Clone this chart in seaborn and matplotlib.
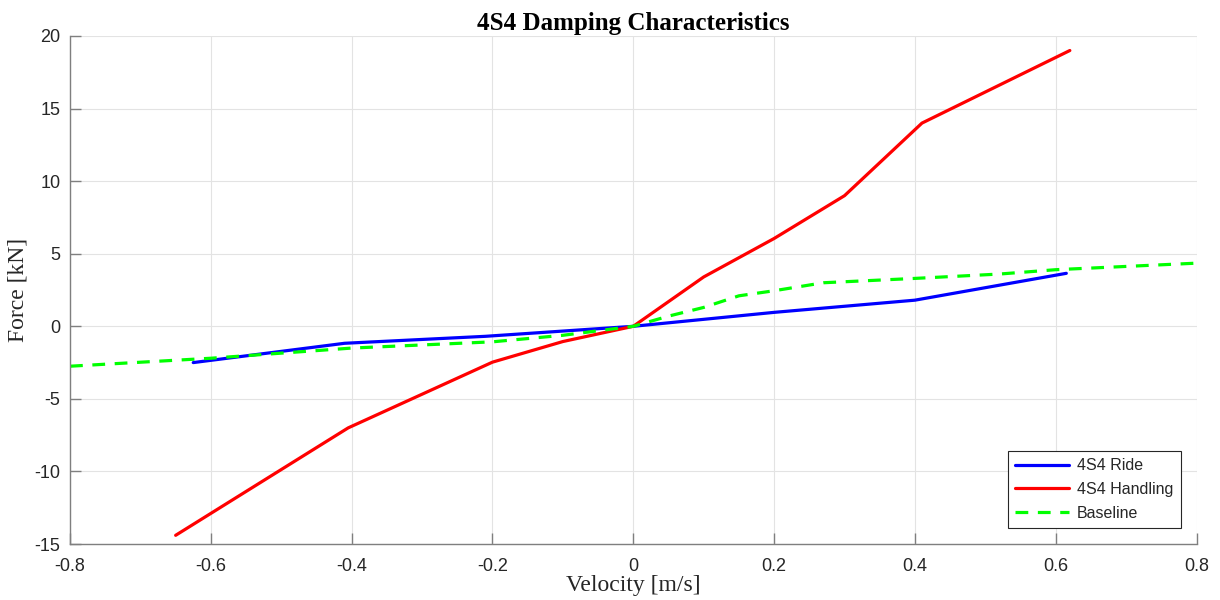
import seaborn as sns
import matplotlib.pyplot as plt
import pandas as pd

# -----------------------------
# Data
# -----------------------------
ride_v = [-0.625, -0.41, -0.21, 0.0, 0.2, 0.4, 0.615]
ride_f = [-2.5, -1.17, -0.69, 0.0, 0.96, 1.8, 3.65]

handling_v = [-0.65, -0.405, -0.2, -0.1, 0.0, 0.1, 0.2, 0.3, 0.41, 0.62]
handling_f = [-14.4, -7.0, -2.47, -1.05, 0.0, 3.4, 6.05, 9.0, 14.0, 19.0]

baseline_v = [-0.8, -0.6, -0.4, -0.2, -0.1, 0.0, 0.05, 0.1, 0.15, 0.2, 0.27, 0.4, 0.52, 0.6, 0.8]
baseline_f = [-2.75, -2.2, -1.5, -1.07, -0.62, 0.0, 0.7, 1.3, 2.1, 2.45, 3.0, 3.3, 3.6, 3.9, 4.35]

x_ticks = [-0.8, -0.6, -0.4, -0.2, 0, 0.2, 0.4, 0.6, 0.8]
x_labels = ["-0.8", "-0.6", "-0.4", "-0.2", "0", "0.2", "0.4", "0.6", "0.8"]
y_ticks = [-15, -10, -5, 0, 5, 10, 15, 20]
y_labels = ["-15", "-10", "-5", "0", "5", "10", "15", "20"]

ride = pd.DataFrame({"v": ride_v, "F": ride_f})
handling = pd.DataFrame({"v": handling_v, "F": handling_f})
baseline = pd.DataFrame({"v": baseline_v, "F": baseline_f})

# -----------------------------
# Styling (MATLAB-like look)
# -----------------------------
sns.set_style("whitegrid", {"grid.color": "#e3e3e3", "axes.edgecolor": "#7f7f7f"})
plt.rcParams["font.family"] = ["Liberation Sans", "DejaVu Sans"]

fig = plt.figure(figsize=(12.2, 6), dpi=100)
ax = fig.add_axes([0.0574, 0.0933, 0.9234, 0.8467])

sns.lineplot(data=ride, x="v", y="F", sort=False, color="#0000ff", lw=2.3,
             label="4S4 Ride", ax=ax)
sns.lineplot(data=handling, x="v", y="F", sort=False, color="#ff0000", lw=2.3,
             label="4S4 Handling", ax=ax)
sns.lineplot(data=baseline, x="v", y="F", sort=False, color="#00ff00", lw=2.3,
             label="Baseline", ax=ax)
ax.lines[-1].set_dashes((4, 3))

ax.set_xlim(-0.8, 0.8)
ax.set_ylim(-15, 20)
ax.set_xticks(x_ticks)
ax.set_xticklabels(x_labels)
ax.set_yticks(y_ticks)
ax.set_yticklabels(y_labels)

for side in ("top", "right"):
    ax.spines[side].set_visible(False)
for side in ("left", "bottom"):
    ax.spines[side].set_linewidth(1.0)

ax.tick_params(axis="both", direction="in", length=8, width=1, color="#7f7f7f",
               labelsize=13, labelcolor="#262626", bottom=True, left=True)
ax.tick_params(axis="x", pad=10)
ax.tick_params(axis="y", pad=7)

ax.set_title("4S4 Damping Characteristics", fontsize=18, fontweight="bold",
             family="Liberation Serif", color="black", pad=4)
ax.set_xlabel("Velocity [m/s]", fontsize=17, family="Liberation Serif",
              labelpad=0, color="#262626")
ax.set_ylabel("Force [kN]", fontsize=17, family="Liberation Serif",
              labelpad=4, color="#262626")

leg = ax.legend(loc="lower right", fontsize=11.5, frameon=True, fancybox=False,
                edgecolor="#262626", framealpha=1, borderaxespad=1.0,
                handlelength=3.4, handletextpad=0.5, labelspacing=0.55,
                borderpad=0.45)
leg.get_frame().set_linewidth(0.8)
leg.get_lines()[-1].set_dashes((4, 3))

plt.savefig("out.png", dpi=100)
plt.close()
